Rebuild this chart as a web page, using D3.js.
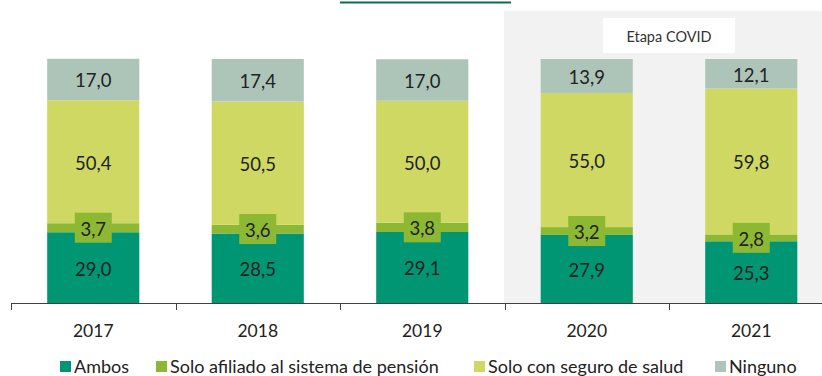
<!DOCTYPE html>
<html>
<head>
<meta charset="utf-8">
<script src="https://cdn.jsdelivr.net/npm/d3@7/dist/d3.min.js"></script>
<style>
  html, body { margin: 0; padding: 0; background: #fff; }
  svg { display: block; font-family: "Lato", "Open Sans", sans-serif; }
</style>
</head>
<body>
<svg id="chart" width="822" height="376"></svg>
<script>
// Años y porcentajes por tipo de cobertura
const years = ["2017", "2018", "2019", "2020", "2021"];
const ambos = [29.0, 28.5, 29.1, 27.9, 25.3];
const soloPension = [3.7, 3.6, 3.8, 3.2, 2.8];
const soloSalud = [50.4, 50.5, 50.0, 55.0, 59.8];
const ninguno = [17.0, 17.4, 17.0, 13.9, 12.1];
const seriesNames = ["Ambos", "Solo afiliado al sistema de pensión", "Solo con seguro de salud", "Ninguno"];
const covidYears = ["2020", "2021"];
const covidLabel = "Etapa COVID";

const colors = ["#009673", "#8cb833", "#cfd862", "#adc5b8"];
const seriesKeys = ["ambos", "pension", "salud", "ninguno"];

const rows = years.map((y, i) => ({
  year: y, ambos: ambos[i], pension: soloPension[i], salud: soloSalud[i], ninguno: ninguno[i]
}));

const svg = d3.select("#chart");
const baseY = 303;
const textColor = "#222";

const x = d3.scaleBand().domain(years).range([11, 833.5]).paddingInner(0.44).paddingOuter(0.22);
const y = d3.scaleLinear().domain([0, 100]).range([baseY, baseY - 244]);

const fmt = v => d3.format(".1f")(v).replace(".", ",");

// Fondo de la etapa COVID
const covidX0 = x(covidYears[0]) - x.step() * x.paddingInner() / 2 - 0.5;
svg.append("rect")
  .attr("x", covidX0).attr("y", 11)
  .attr("width", 822 - covidX0).attr("height", baseY - 11)
  .attr("fill", "#f2f2f2");

// Recuadro con el rótulo de la etapa
const covidCenter = (x(covidYears[0]) + x(covidYears[1]) + x.bandwidth()) / 2;
svg.append("rect")
  .attr("x", covidCenter - 66).attr("y", 18)
  .attr("width", 132).attr("height", 35)
  .attr("fill", "#ffffff");
svg.append("text")
  .attr("x", covidCenter).attr("y", 36)
  .attr("text-anchor", "middle").attr("dominant-baseline", "central")
  .attr("font-size", 14.5).attr("fill", "#333")
  .text(covidLabel);

// Subrayado del título
svg.append("line")
  .attr("x1", 340).attr("x2", 511).attr("y1", 2.5).attr("y2", 2.5)
  .attr("stroke", "#0e6b4e").attr("stroke-width", 2);

// Barras apiladas
const stack = d3.stack().keys(seriesKeys)(rows);
const layers = svg.append("g").selectAll("g")
  .data(stack).join("g")
  .attr("fill", (d, i) => colors[i]);

layers.selectAll("rect")
  .data(d => d)
  .join("rect")
  .attr("x", d => x(d.data.year))
  .attr("y", d => y(d[1]))
  .attr("width", x.bandwidth())
  .attr("height", d => y(d[0]) - y(d[1]));

// Etiquetas de valores
const labelG = svg.append("g").attr("font-size", 18.5).attr("fill", textColor);
stack.forEach((layer, li) => {
  layer.forEach(d => {
    const cx = x(d.data.year) + x.bandwidth() / 2;
    const cy = (y(d[0]) + y(d[1])) / 2;
    const v = d.data[seriesKeys[li]];
    if (li === 1) {
      labelG.append("rect")
        .attr("x", cx - 18.5).attr("y", cy - 15)
        .attr("width", 37).attr("height", 30)
        .attr("fill", colors[1]);
    }
    labelG.append("text")
      .attr("x", cx).attr("y", cy + 1)
      .attr("text-anchor", "middle").attr("dominant-baseline", "central")
      .text(fmt(v));
  });
});

// Eje horizontal
const axisG = svg.append("g");
axisG.append("line")
  .attr("x1", 11).attr("x2", 822).attr("y1", baseY + 0.5).attr("y2", baseY + 0.5)
  .attr("stroke", "#404040").attr("stroke-width", 1);
years.forEach(yr => {
  const tx = Math.round(x(yr) - x.step() * x.paddingInner() / 2) + 0.5;
  axisG.append("line")
    .attr("x1", tx).attr("x2", tx).attr("y1", baseY).attr("y2", baseY + 7)
    .attr("stroke", "#404040");
});
axisG.selectAll("text.tick")
  .data(years).join("text")
  .attr("class", "tick")
  .attr("x", d => x(d) + x.bandwidth() / 2)
  .attr("y", 330)
  .attr("text-anchor", "middle").attr("dominant-baseline", "central")
  .attr("font-size", 17.5).attr("fill", textColor)
  .text(d => d);

// Leyenda
const legendX = [60, 156, 474, 715];
const legend = svg.append("g");
seriesNames.forEach((name, i) => {
  legend.append("rect")
    .attr("x", legendX[i]).attr("y", 361)
    .attr("width", 11).attr("height", 11)
    .attr("fill", colors[i]);
  legend.append("text")
    .attr("x", legendX[i] + 14).attr("y", 366)
    .attr("dominant-baseline", "central")
    .attr("font-size", 18).attr("fill", textColor)
    .text(name);
});
</script>
</body>
</html>
